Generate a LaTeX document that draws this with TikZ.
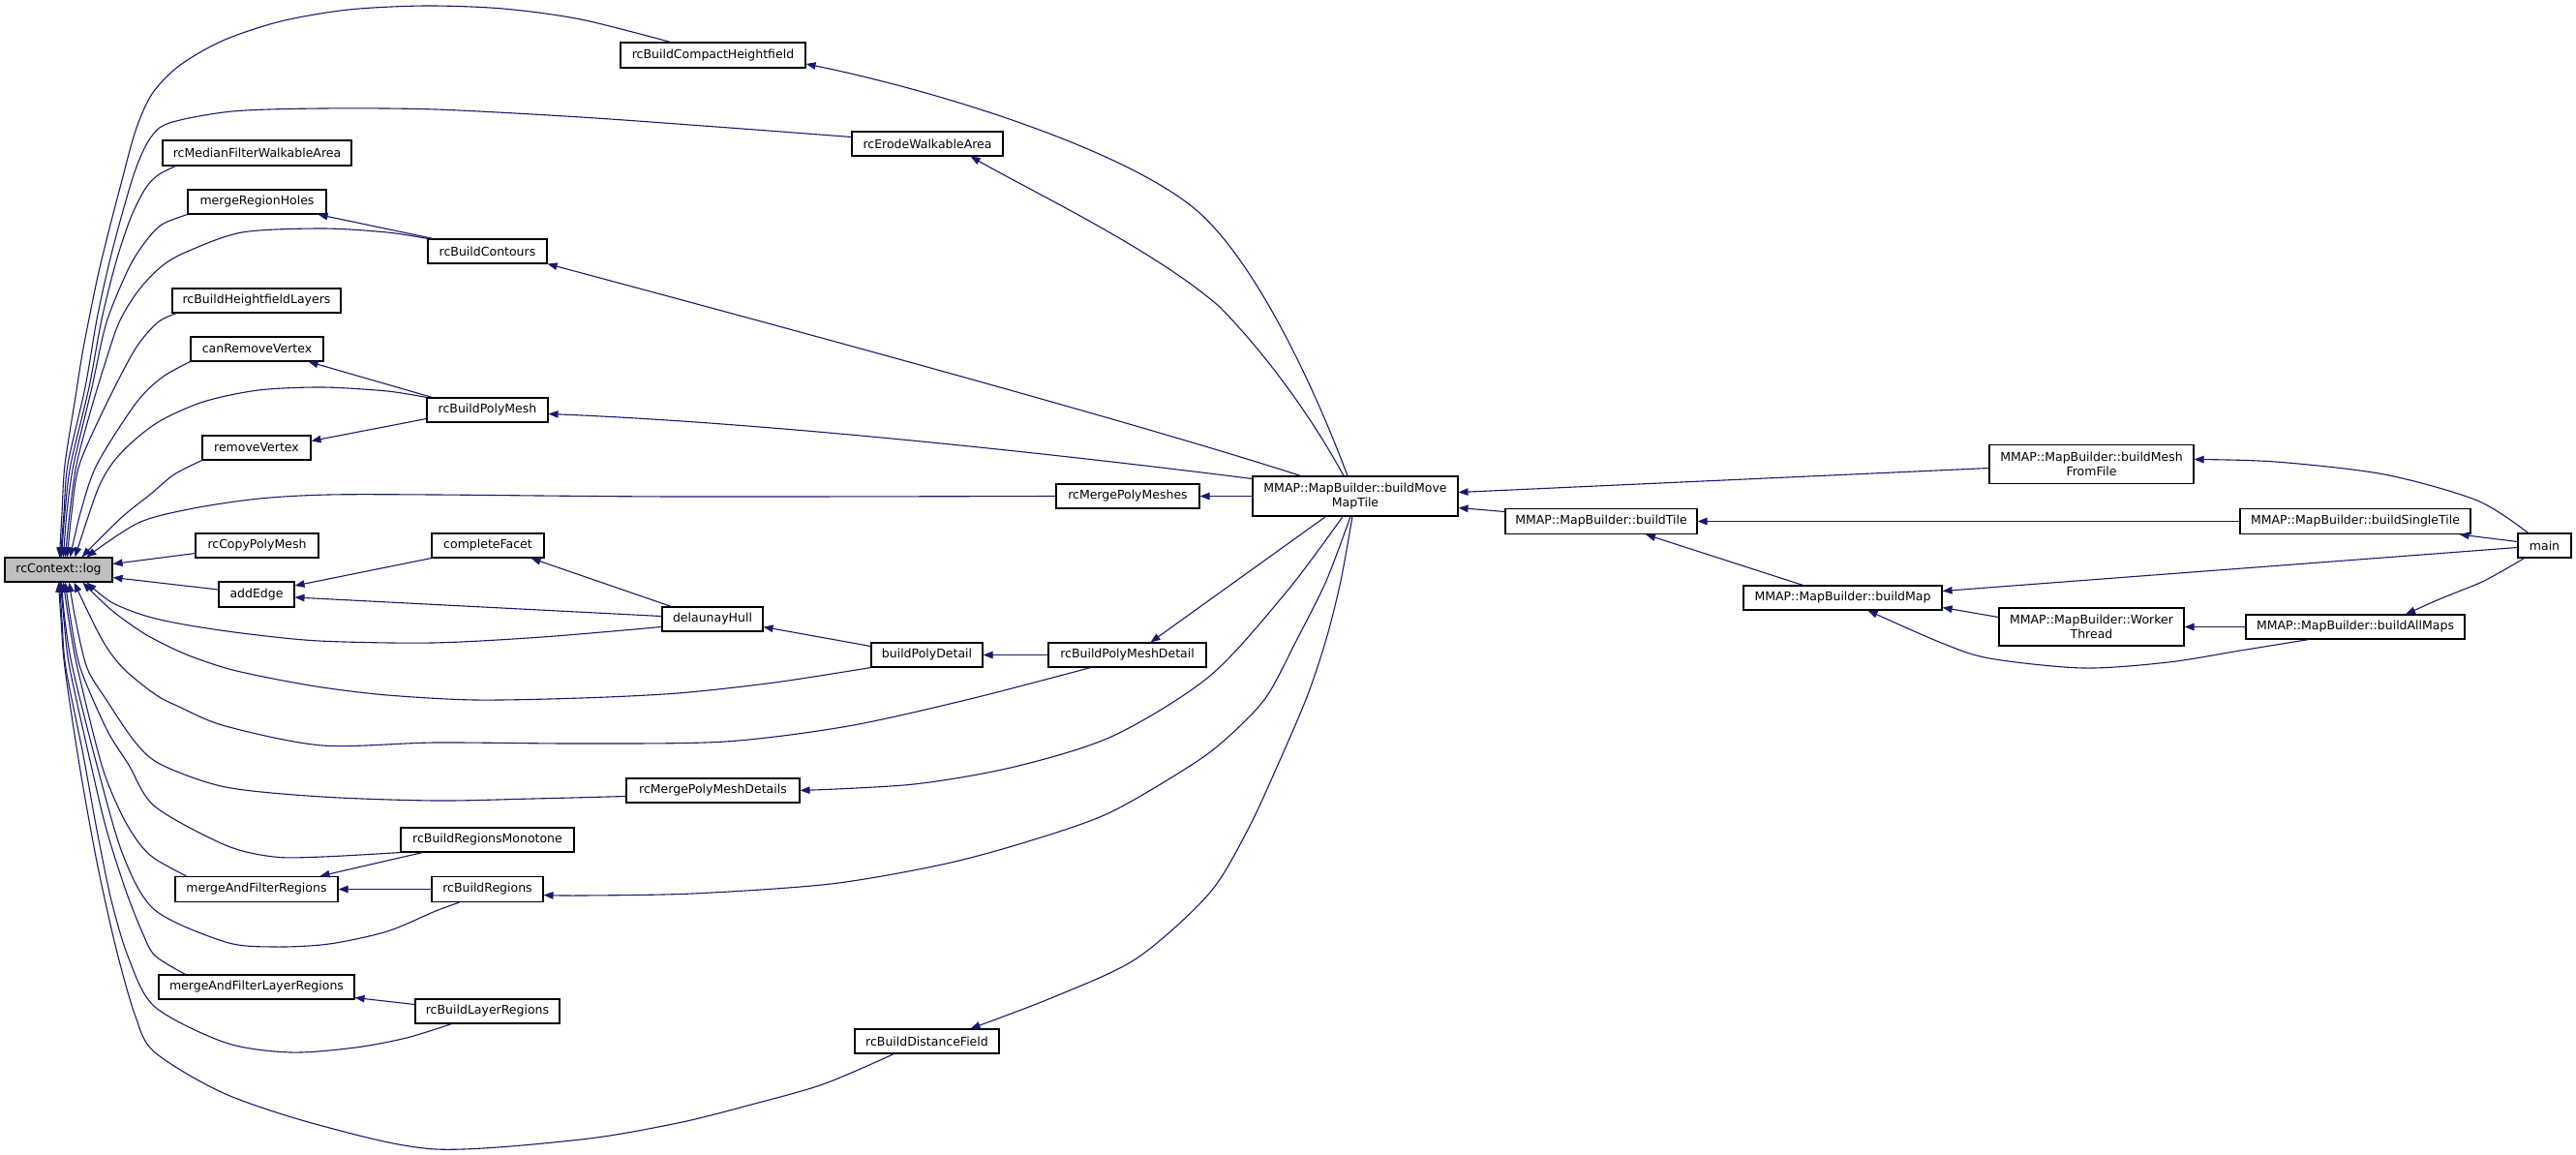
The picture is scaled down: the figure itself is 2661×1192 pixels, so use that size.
\documentclass[tikz,border=0pt]{standalone}
\usepackage{fontspec}
\setmainfont{DejaVu Sans}
\usetikzlibrary{arrows.meta}
\definecolor{edgeblue}{RGB}{25,25,112}
\definecolor{rootgrey}{RGB}{191,191,191}
\begin{document}
\begin{tikzpicture}[x=1pt,y=-1pt,
  box/.style={draw=black, line width=1.1pt, fill=white, inner sep=0pt,
    font=\fontsize{12.5}{14.5}\selectfont, align=center, minimum height=25pt},
  edge/.style={draw=edgeblue, line width=1.1pt,
    -{Triangle[length=10pt,width=7.5pt,fill=edgeblue]}}
]
\useasboundingbox[fill=white] (0,0) rectangle (2661,1192);

% ---------- nodes ----------
\node[box, fill=rootgrey, minimum width=111pt] (log) at (60.5,588.5) {rcContext::log};
\node[box, minimum width=191pt, minimum height=26pt] (bch) at (736.5,57) {rcBuildCompactHeightfield};
\node[box, minimum width=156pt] (ewa) at (958,148.5) {rcErodeWalkableArea};
\node[box, minimum width=195pt, minimum height=26pt] (mfwa) at (265.5,158) {rcMedianFilterWalkableArea};
\node[box, minimum width=143pt] (mrh) at (265.5,208.5) {mergeRegionHoles};
\node[box, minimum width=123pt] (bc) at (503.5,259.5) {rcBuildContours};
\node[box, minimum width=174pt] (bhl) at (265,310.5) {rcBuildHeightfieldLayers};
\node[box, minimum width=137pt] (crv) at (265.5,360.5) {canRemoveVertex};
\node[box, minimum width=125pt] (bpm) at (503.5,423.5) {rcBuildPolyMesh};
\node[box, minimum width=112pt] (rv) at (265,462.5) {removeVertex};
\node[box, minimum width=148pt] (mpm) at (1165,512.5) {rcMergePolyMeshes};
\node[box, minimum width=127pt] (cpm) at (265.5,563.5) {rcCopyPolyMesh};
\node[box, minimum width=116pt] (cf) at (504,563.5) {completeFacet};
\node[box, minimum width=78pt, minimum height=26pt] (ae) at (265,614) {addEdge};
\node[box, minimum width=104pt] (dh) at (736,639.5) {delaunayHull};
\node[box, minimum width=115pt] (bpd) at (957.5,676.5) {buildPolyDetail};
\node[box, minimum width=163pt] (bpmd) at (1164.5,676.5) {rcBuildPolyMeshDetail};
\node[box, minimum width=212pt, minimum height=41pt] (mt) at (1400,512.5) {MMAP::MapBuilder::buildMove\\MapTile};
\node[box, minimum width=179pt] (mpmd) at (736.5,816.5) {rcMergePolyMeshDetails};
\node[box, minimum width=179pt] (brm) at (503.5,867.5) {rcBuildRegionsMonotone};
\node[box, minimum width=168pt, minimum height=26pt] (afr) at (265,918.5) {mergeAndFilterRegions};
\node[box, minimum width=115pt, minimum height=26pt] (br) at (503.5,918.5) {rcBuildRegions};
\node[box, minimum width=202pt] (aflr) at (265,1019.5) {mergeAndFilterLayerRegions};
\node[box, minimum width=149pt] (blr) at (503.5,1044.5) {rcBuildLayerRegions};
\node[box, minimum width=149pt] (bdf) at (957.5,1075.5) {rcBuildDistanceField};
\node[box, minimum width=211pt, minimum height=40pt] (mff) at (2160.5,479.5) {MMAP::MapBuilder::buildMesh\\FromFile};
\node[box, minimum width=198pt, minimum height=26pt] (bt) at (1654,538.5) {MMAP::MapBuilder::buildTile};
\node[box, minimum width=238pt, minimum height=26pt] (bst) at (2433,538.5) {MMAP::MapBuilder::buildSingleTile};
\node[box, minimum width=55pt] (mn) at (2628.5,563.5) {main};
\node[box, minimum width=205pt] (bm) at (1903.5,617.5) {MMAP::MapBuilder::buildMap};
\node[box, minimum width=191pt, minimum height=39pt] (wt) at (2160.5,647.5) {MMAP::MapBuilder::Worker\\Thread};
\node[box, minimum width=226pt] (bam) at (2433,647.5) {MMAP::MapBuilder::buildAllMaps};

% ---------- edges into rcContext::log (top) ----------
\draw[edge] plot[smooth] coordinates {([xshift=-44pt]bch.north) (600,20) (520,9) (440,6) (360,10) (290,22) (230,42) (185,68) (157,97) (140,135) (125,190) (112,240) (100,290) (86,360) (78,410) (67,480) (64,530) ([xshift=57pt]log.north west)};
\draw[edge] plot[smooth] coordinates {([yshift=7pt]ewa.west) (740,131) (600,121) (450,113) (333,112) (240,115) (175,127) (155,143) (140,175) (125,225) (112,275) (100,330) (88,400) (70,480) (66,530) ([xshift=58pt]log.north west)};
\draw[edge] plot[smooth] coordinates {([xshift=14pt]mfwa.south west) (163,181) (150,195) (135,225) (120,270) (105,330) (92,400) (73,480) (67,530) ([xshift=59pt]log.north west)};
\draw[edge] plot[smooth] coordinates {(mrh.south west) (167,232) (150,250) (133,277) (110,333) (95,400) (76,480) (69,530) ([xshift=61pt]log.north west)};
\draw[edge] plot[smooth] coordinates {(bc.north west) (400,240) (333,236) (250,240) (193,260) (167,275) (143,300) (123,333) (107,380) (92,430) (79,480) (72,530) ([xshift=63pt]log.north west)};
\draw[edge] plot[smooth] coordinates {([xshift=5pt]bhl.south west) (163,333) (140,360) (110,417) (82,480) (74,530) ([xshift=65pt]log.north west)};
\draw[edge] plot[smooth] coordinates {(crv.south west) (167,390) (140,417) (100,480) (83,530) ([xshift=68pt]log.north west)};
\draw[edge] plot[smooth] coordinates {(bpm.north west) (400,404) (333,400) (267,403) (210,415) (165,435) (135,458) (115,480) (100,508) ([xshift=73pt]log.north west)};
\draw[edge] plot[smooth] coordinates {(rv.south west) (180,490) (156,510) (125,535) ([xshift=80pt]log.north west)};
\draw[edge] plot[smooth] coordinates {(mpm.west) (700,513) (450,511) (339,511) (268,515) (200,525) (143,540) ([xshift=85pt]log.north west)};

% ---------- edges into rcContext::log (right) ----------
\draw[edge] ([yshift=-8pt]cpm.west) -- ([yshift=6pt]log.east);
\draw[edge] ([yshift=5pt]ae.west) -- ([yshift=-8pt]log.east);

% ---------- edges into rcContext::log (bottom) ----------
\draw[edge] plot[smooth] coordinates {([yshift=-8pt]dh.west) (560,658) (446,664) (330,662) (250,654) (190,645) (150,636) (115,622) ([xshift=85pt]log.south west)};
\draw[edge] plot[smooth] coordinates {(bpd.south west) (800,705) (700,716) (600,721) (491,723) (400,718) (333,710) (277,700) (233,690) (190,675) (150,655) (115,630) ([xshift=81pt]log.south west)};
\draw[edge] plot[smooth] coordinates {([xshift=44pt]bpmd.south west) (1002,722) (876,750) (749,766) (600,768) (450,767) (333,770) (233,750) (185,730) (160,717) (127,690) (105,660) ([xshift=72pt]log.south west)};
\draw[edge] plot[smooth] coordinates {([yshift=-6pt]mpmd.west) (550,825) (450,827) (333,823) (233,813) (167,790) (140,767) (110,723) (90,690) (78,640) ([xshift=67pt]log.south west)};
\draw[edge] plot[smooth] coordinates {(brm.south west) (333,885) (283,885) (233,873) (160,833) (133,790) (110,753) (83,690) (73,640) ([xshift=63pt]log.south west)};
\draw[edge] plot[smooth] coordinates {([xshift=12pt]afr.north west) (160,887) (143,870) (125,840) (105,790) (80,690) (71,640) ([xshift=61pt]log.south west)};
\draw[edge] plot[smooth] coordinates {([xshift=29pt]br.south west) (450,941) (400,962) (340,975) (283,978) (233,973) (160,940) (127,883) (100,790) (75,690) (67,640) ([xshift=59pt]log.south west)};
\draw[edge] plot[smooth] coordinates {([xshift=28pt]aflr.north west) (160,987) (147,963) (130,920) (110,857) (94,790) (72,690) (66,640) ([xshift=58pt]log.south west)};
\draw[edge] plot[smooth] coordinates {([xshift=38pt]blr.south west) (420,1072) (367,1082) (300,1087) (233,1077) (160,1040) (133,990) (115,930) (100,857) (86,780) (68,690) (64,640) ([xshift=57pt]log.south west)};
\draw[edge] plot[smooth] coordinates {([xshift=41pt]bdf.south west) (850,1120) (772,1142) (700,1160) (600,1177) (450,1187) (333,1163) (233,1130) (160,1087) (140,1050) (120,980) (100,890) (82,790) (67,690) (63,640) ([xshift=56pt]log.south west)};

% ---------- inner edges, left part ----------
\draw[edge] ([xshift=6pt]bc.north west) -- ([xshift=-9pt]mrh.south east);
\draw[edge] ([xshift=6pt]bpm.north west) -- ([xshift=-16pt]crv.south east);
\draw[edge] ([yshift=-9pt]bpm.west) -- ([yshift=7pt]rv.east);
\draw[edge] (cf.south west) -- ([yshift=9pt]ae.east);
\draw[edge] ([yshift=3pt]dh.west) -- ([yshift=-3pt]ae.east);
\draw[edge] ([xshift=10pt]dh.north west) -- ([xshift=-14pt]cf.south east);
\draw[edge] ([yshift=9pt]bpd.west) -- ([yshift=-8pt]dh.east);
\draw[edge] (bpmd.west) -- (bpd.east);
\draw[edge] ([xshift=23pt]brm.south west) -- ([xshift=-19pt]afr.north east);
\draw[edge] (br.west) -- (afr.east);
\draw[edge] ([yshift=7pt]blr.west) -- ([yshift=-11pt]aflr.east);

% ---------- edges from buildMoveMapTile ----------
\coordinate (kA) at (1231,213);
\coordinate (kB) at (1260,317);
\draw[edge] ([xshift=-8pt]mt.north) .. controls (1357,398) and (1294,263) .. (kA)
  .. controls (1152,151) and (965,93) .. ([yshift=-9pt]bch.east);
\draw[edge] ([xshift=-12pt]mt.north) .. controls (1350,422) and (1302,360) .. (kB)
  .. controls (1192,258) and (1072,201) .. ([xshift=-34pt]ewa.south east);
\draw[edge] ([xshift=50pt]mt.north west) .. controls (1200,445) and (900,362) .. (bc.south east);
\draw[edge] ([yshift=18pt]mt.west) .. controls (1100,470) and (800,437) .. ([yshift=-4pt]bpm.east);
\draw[edge] (mt.west) -- (mpm.east);
\draw[edge] ([xshift=76pt]mt.south west) -- ([xshift=24pt]bpmd.north);
\draw[edge] plot[smooth] coordinates {([xshift=-13pt]mt.south) (1330,610) (1250,698) (1150,760) (1048,792) (944,810) (mpmd.east)};
\draw[edge] plot[smooth] coordinates {([xshift=-5pt]mt.south) (1370,600) (1340,660) (1308,720) (1270,760) (1231,790) (1145,840) (1059,870) (973,893) (858,913) (715,923) (600,925) ([yshift=-6pt]br.east)};
\draw[edge] plot[smooth] coordinates {([xshift=-3pt]mt.south) (1385,600) (1370,660) (1350,720) (1320,790) (1289,857) (1249,923) (1174,990) (1088,1030) ([xshift=-30pt]bdf.north east)};

% ---------- right part ----------
\draw[edge] ([yshift=-4pt]mff.west) -- ([yshift=4pt]mt.east);
\draw[edge] ([yshift=10pt]bt.west) -- ([yshift=-12pt]mt.east);
\draw[edge] plot[smooth] coordinates {([xshift=-17pt]mn.north) (2559,517) (2463,490) (2351,477) ([yshift=5pt]mff.east)};
\draw[edge] (bst.west) -- (bt.east);
\draw[edge] ([yshift=4pt]mn.west) -- ([xshift=-12pt]bst.south east);
\draw[edge] ([yshift=-2pt]mn.west) -- ([yshift=7pt]bm.east);
\draw[edge] ([xshift=62pt]bm.north west) -- ([xshift=46pt]bt.south);
\draw[edge] ([yshift=10pt]wt.west) -- ([yshift=-10pt]bm.east);
\draw[edge] (bam.west) -- (wt.east);
\draw[edge] plot[smooth] coordinates {([xshift=-21pt]mn.south) (2566,600) (2522,618) ([xshift=52pt]bam.north)};
\draw[edge] plot[smooth] coordinates {([xshift=-48pt]bam.south) (2314,672) (2240,684) (2152,690) (2055,680) (2003,663) ([xshift=26pt]bm.south)};
\end{tikzpicture}
\end{document}
